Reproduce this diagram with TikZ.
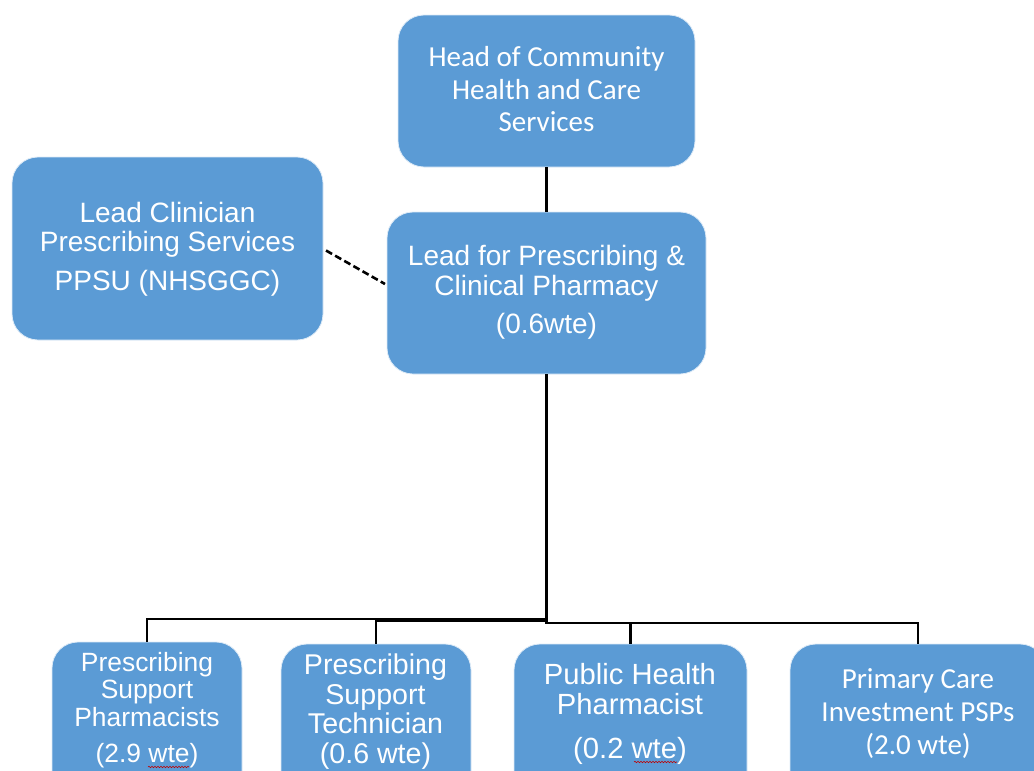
\documentclass[tikz,border=0pt]{standalone}
\usepackage{fontspec}
\setmainfont{Liberation Sans}
\newfontfamily\calfont{Carlito}
\usetikzlibrary{calc,decorations.pathmorphing}
\definecolor{boxblue}{RGB}{91,155,213}
\begin{document}
\begin{tikzpicture}[x=1pt,y=-1pt,
  box/.style={draw=white!80!boxblue, line width=0.8pt, fill=boxblue, rounded corners=26pt, inner sep=0pt, outer sep=0pt},
  txt/.style={text=white, align=center, inner sep=0pt, anchor=base},
  conn/.style={line width=2.4pt, black},
  dconn/.style={line width=2.6pt, black, dash pattern=on 7pt off 3.5pt},
  squig/.style={red!75!black, line width=0.6pt, decorate, decoration={snake, amplitude=0.7pt, segment length=3pt}}]
\useasboundingbox (0,0) rectangle (1034,771);
\clip (0,0) rectangle (1034,771);

% boxes
\node[box, minimum width=297pt, minimum height=152pt] (head) at (546.5,91) {};
\node[box, minimum width=311pt, minimum height=183pt] (clin) at (167.5,248.5) {};
\node[box, minimum width=319pt, minimum height=162pt] (lead) at (546.5,293) {};
\node[box, minimum width=190pt, minimum height=158pt] (b1) at (147,721) {};
\node[box, minimum width=190pt, minimum height=156pt] (b2) at (376,722) {};
\node[box, minimum width=233pt, minimum height=156pt] (b3) at (630.5,722) {};
\node[box, minimum width=256pt, minimum height=156pt] (b4) at (918,722) {};

% texts (anchor base = baseline of last line)
\node[txt, font=\calfont\fontsize{29}{32.5}\selectfont] (headt) at (546.5,131.7) {Head of Community\\Health and Care\\Services};
\node[txt, font=\fontsize{28}{29}\selectfont] (clint) at (167.5,290) {Lead Clinician\\Prescribing Services\\[10pt]PPSU (NHSGGC)};
\node[txt, font=\fontsize{28}{30}\selectfont] (leadt) at (546.5,333) {Lead for Prescribing \&\\Clinical Pharmacy\\[8pt](0.6wte)};
\node[txt, font=\fontsize{26.4}{27.5}\selectfont] (b1t) at (147,762.5) {Prescribing\\Support\\Pharmacists\\[9pt](2.9 wte)};
\node[txt, font=\fontsize{28.6}{29.5}\selectfont] (b2t) at (375.5,763) {Prescribing\\Support\\Technician\\(0.6 wte)};
\node[txt, font=\fontsize{29.2}{30}\selectfont] (b3t) at (630,758) {Public Health\\Pharmacist\\[14pt](0.2 wte)};
\node[txt, font=\calfont\fontsize{29}{33}\selectfont] (b4t) at (918,754) {Primary Care\\Investment PSPs\\(2.0 wte)};

% spelling marks
\draw[squig] (148,767) -- (189,767);
\draw[squig] (634,762) -- (677,762);

% connectors
\draw[conn] (head.south) -- (lead.north);
\draw[dconn] ($(clin.east)+(3,2)$) -- ($(lead.west)+(-2,-9)$);
\draw[conn] (lead.south) -- ++(0,245) -| (b1.north);
\draw[conn] (lead.south) -- ++(0,247) -| (b2.north);
\draw[conn] (lead.south) -- ++(0,249) -| (b3.north);
\draw[conn] (lead.south) -- ++(0,249) -| (b4.north);
\end{tikzpicture}
\end{document}
